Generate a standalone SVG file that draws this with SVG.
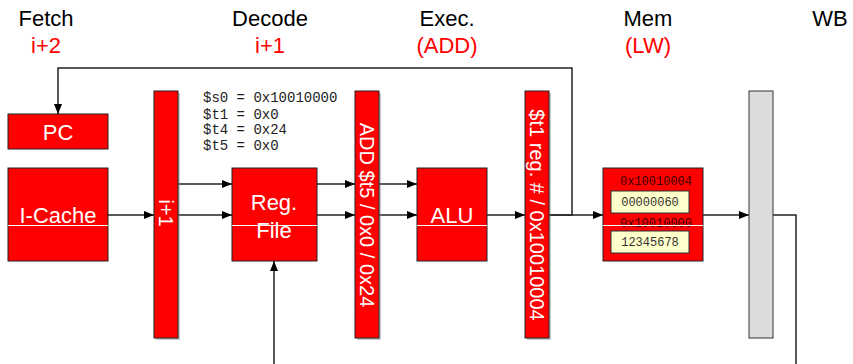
<svg xmlns="http://www.w3.org/2000/svg" width="853" height="364" viewBox="0 0 853 364">
  <style>
    .hdr { font-family: "Liberation Sans", Arial, sans-serif; font-size: 22px; fill: #000; text-anchor: middle; }
    .sub { font-family: "Liberation Sans", Arial, sans-serif; font-size: 22px; fill: #ff0000; text-anchor: middle; }
    .blk { fill: #ff0000; stroke: #222; stroke-width: 1; }
    .pipe { fill: #ff0000; stroke: #222; stroke-width: 1; }
    .wbp { fill: #dcdcdc; stroke: #333; stroke-width: 1; }
    .sh { fill: #888; opacity: 0.45; }
    .lbl { font-family: "Liberation Sans", Arial, sans-serif; font-size: 22px; fill: #fff; text-anchor: middle; }
    .vlbl { font-family: "Liberation Sans", Arial, sans-serif; font-size: 20px; fill: #fff; text-anchor: middle; }
    .div { stroke: #fff; stroke-width: 1; }
    .reg { font-family: "Liberation Mono", "Courier New", monospace; font-size: 14px; fill: #222; }
    .hex { font-family: "Liberation Mono", "Courier New", monospace; font-size: 12px; fill: #3a0000; text-anchor: middle; }
    .cell { fill: #ffffcc; stroke: #333; stroke-width: 1; }
    .val { font-family: "Liberation Mono", "Courier New", monospace; font-size: 12px; fill: #333; text-anchor: middle; }
    .wire { fill: none; stroke: #222; stroke-width: 1.5; }
  </style>
  <defs>
    <marker id="arr" markerUnits="userSpaceOnUse" markerWidth="10" markerHeight="10" viewBox="0 0 10 10" refX="10" refY="5" orient="auto">
      <path d="M0,1 L10,5 L0,9 Z" fill="#000"/>
    </marker>
  </defs>

  <!-- stage headings -->
  <g id="headings">
    <text class="hdr" x="46" y="26">Fetch</text>
    <text class="sub" x="46" y="53">i+2</text>
    <text class="hdr" x="270" y="26">Decode</text>
    <text class="sub" x="270" y="53">i+1</text>
    <text class="hdr" x="447" y="26">Exec.</text>
    <text class="sub" x="447" y="53">(ADD)</text>
    <text class="hdr" x="648" y="26">Mem</text>
    <text class="sub" x="648" y="53">(LW)</text>
    <text class="hdr" x="830" y="26">WB</text>
  </g>

  <!-- connectors -->
  <g id="connectors">
    <path class="wire" d="M549,215 H572 V68 H58 V114" marker-end="url(#arr)"/>
    <path class="wire" d="M108,215 H154" marker-end="url(#arr)"/>
    <path class="wire" d="M178,184 H232" marker-end="url(#arr)"/>
    <path class="wire" d="M178,215 H232" marker-end="url(#arr)"/>
    <path class="wire" d="M274,364 V261" marker-end="url(#arr)"/>
    <path class="wire" d="M317,184 H355" marker-end="url(#arr)"/>
    <path class="wire" d="M317,215 H355" marker-end="url(#arr)"/>
    <path class="wire" d="M379,184 H417" marker-end="url(#arr)"/>
    <path class="wire" d="M379,215 H417" marker-end="url(#arr)"/>
    <path class="wire" d="M487,215 H525" marker-end="url(#arr)"/>
    <path class="wire" d="M549,215 H603" marker-end="url(#arr)"/>
    <path class="wire" d="M703,215 H749" marker-end="url(#arr)"/>
    <path class="wire" d="M773,215 H796 V364"/>
  </g>

  <!-- program counter -->
  <g id="pc">
    <rect class="blk" x="8" y="114" width="100" height="35"/>
    <text class="lbl" x="58" y="140">PC</text>
  </g>

  <!-- instruction cache -->
  <g id="icache">
    <rect class="blk" x="8" y="168" width="100" height="93"/>
    <text class="lbl" x="58" y="223">I-Cache</text>
    <line class="div" x1="8" y1="225.5" x2="108" y2="225.5"/>
  </g>

  <!-- IF/ID pipeline register -->
  <g id="ifid">
    <rect class="sh" x="156" y="93" width="24" height="247"/>
    <rect class="pipe" x="154" y="91" width="24" height="247"/>
    <text class="vlbl" transform="translate(159,213) rotate(90)">i+1</text>
  </g>

  <!-- register values -->
  <g id="regvals">
    <text class="reg" x="203" y="102">$s0 = 0x10010000</text>
    <text class="reg" x="203" y="119">$t1 = 0x0</text>
    <text class="reg" x="203" y="134">$t4 = 0x24</text>
    <text class="reg" x="203" y="150">$t5 = 0x0</text>
  </g>

  <!-- register file -->
  <g id="regfile">
    <rect class="blk" x="232" y="168" width="85" height="93"/>
    <text class="lbl" x="274" y="210">Reg.</text>
    <text class="lbl" x="274" y="238">File</text>
    <line class="div" x1="232" y1="225.5" x2="317" y2="225.5"/>
  </g>

  <!-- ID/EX pipeline register -->
  <g id="idex">
    <rect class="sh" x="357" y="93" width="24" height="247"/>
    <rect class="pipe" x="355" y="91" width="24" height="247"/>
    <text class="vlbl" transform="translate(360,215) rotate(90)">ADD $t5 / 0x0 / 0x24</text>
  </g>

  <!-- ALU -->
  <g id="alu">
    <rect class="blk" x="417" y="168" width="70" height="93"/>
    <text class="lbl" x="452" y="223">ALU</text>
    <line class="div" x1="417" y1="225.5" x2="487" y2="225.5"/>
  </g>

  <!-- EX/MEM pipeline register -->
  <g id="exmem">
    <rect class="sh" x="527" y="93" width="24" height="247"/>
    <rect class="pipe" x="525" y="91" width="24" height="247"/>
    <text class="vlbl" transform="translate(530,215) rotate(90)">$t1 reg. # / 0x10010004</text>
  </g>

  <!-- data memory -->
  <g id="dmem">
    <rect class="blk" x="603" y="168" width="100" height="93"/>
    <text class="hex" x="656" y="185">0x10010004</text>
    <rect class="cell" x="611" y="191" width="78" height="22"/>
    <text class="val" x="650" y="206">00000060</text>
    <text class="hex" x="656" y="227">0x10010000</text>
    <line class="div" x1="603" y1="225.5" x2="703" y2="225.5"/>
    <rect class="cell" x="611" y="231" width="78" height="22"/>
    <text class="val" x="650" y="246">12345678</text>
  </g>

  <!-- MEM/WB pipeline register -->
  <g id="memwb">
    <rect class="wbp" x="749" y="91" width="24" height="247"/>
  </g>
</svg>
